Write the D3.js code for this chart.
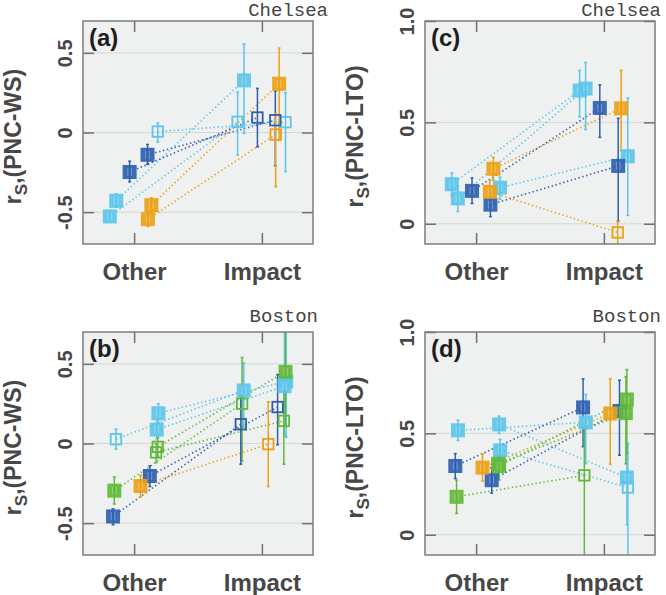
<!DOCTYPE html>
<html>
<head>
<meta charset="utf-8">
<script src="https://cdn.jsdelivr.net/npm/d3@7"></script>
<style>
  body { margin: 0; background: #fff; }
  svg { display: block; }
</style>
</head>
<body>
<div id="viz"></div>
<script>
const width = 666;
const height = 595;

// categories on the x axis
const categories = ['Other', 'Impact'];

// y tick values / labels
const wsTicks = [-0.5, 0, 0.5];
const wsTickLabels = ['-0.5', '0', '0.5'];
const ltoTicks = [0, 0.5, 1.0];
const ltoTickLabels = ['0', '0.5', '1.0'];

// each series: group, jitter (x offset in category units),
// values at [Other, Impact], lower / upper error, filled (significant) flags
const chelseaWS = [
  { group: 'lb', jitter: -0.19, value: [-0.527, 0.067], lo: [-0.56, -0.142], hi: [-0.49, 0.254], filled: [1, 0] },
  { group: 'lb', jitter: -0.14, value: [-0.429, 0.327], lo: [-0.47, -0.006], hi: [-0.385, 0.556], filled: [1, 1] },
  { group: 'lb', jitter: 0.185, value: [0.006, 0.065], lo: [-0.06, -0.246], hi: [0.06, 0.25], filled: [0, 0] },
  { group: 'db', jitter: -0.035, value: [-0.248, 0.094], lo: [-0.31, -0.09], hi: [-0.18, 0.277], filled: [1, 0] },
  { group: 'db', jitter: 0.105, value: [-0.14, 0.077], lo: [-0.2, -0.208], hi: [-0.075, 0.26], filled: [1, 0] },
  { group: 'or', jitter: 0.108, value: [-0.544, -0.013], lo: [-0.59, -0.34], hi: [-0.5, 0.12], filled: [1, 0] },
  { group: 'or', jitter: 0.135, value: [-0.456, 0.306], lo: [-0.5, -0.05], hi: [-0.41, 0.53], filled: [1, 1] },
];

const chelseaLTO = [
  { group: 'lb', jitter: -0.19, value: [0.195, 0.657], lo: [0.14, 0.528], hi: [0.25, 0.756], filled: [1, 1] },
  { group: 'lb', jitter: -0.143, value: [0.125, 0.667], lo: [0.06, 0.465], hi: [0.185, 0.795], filled: [1, 1] },
  { group: 'lb', jitter: 0.187, value: [0.178, 0.333], lo: [0.12, 0.041], hi: [0.23, 0.62], filled: [1, 1] },
  { group: 'db', jitter: -0.032, value: [0.162, 0.571], lo: [0.1, 0.426], hi: [0.226, 0.685], filled: [1, 1] },
  { group: 'db', jitter: 0.112, value: [0.094, 0.285], lo: [0.035, 0.012], hi: [0.15, 0.52], filled: [1, 1] },
  { group: 'or', jitter: 0.108, value: [0.157, -0.043], lo: [0.1, -0.15], hi: [0.215, 0.01], filled: [1, 0] },
  { group: 'or', jitter: 0.135, value: [0.271, 0.569], lo: [0.215, 0.36], hi: [0.327, 0.756], filled: [1, 1] },
];

const bostonWS = [
  { group: 'lb', jitter: -0.142, value: [0.027, 0.333], lo: [-0.035, 0.1], hi: [0.09, 0.506], filled: [0, 1] },
  { group: 'lb', jitter: 0.19, value: [0.19, 0.39], lo: [0.13, 0.04], hi: [0.25, 0.72], filled: [1, 1] },
  { group: 'lb', jitter: 0.177, value: [0.0875, 0.36], lo: [0.03, 0.05], hi: [0.15, 0.7], filled: [1, 1] },
  { group: 'gr', jitter: -0.155, value: [-0.296, 0.25], lo: [-0.38, -0.11], hi: [-0.21, 0.54], filled: [1, 0] },
  { group: 'gr', jitter: 0.185, value: [-0.021, 0.45], lo: [-0.08, 0.12], hi: [0.04, 0.78], filled: [0, 1] },
  { group: 'gr', jitter: 0.172, value: [-0.056, 0.142], lo: [-0.12, -0.13], hi: [0.0, 0.4], filled: [0, 0] },
  { group: 'db', jitter: -0.165, value: [-0.458, 0.121], lo: [-0.51, -0.13], hi: [-0.41, 0.3], filled: [1, 0] },
  { group: 'db', jitter: 0.123, value: [-0.204, 0.229], lo: [-0.27, -0.008], hi: [-0.14, 0.433], filled: [1, 0] },
  { group: 'or', jitter: 0.05, value: [-0.267, -0.004], lo: [-0.335, -0.271], hi: [-0.2, 0.262], filled: [1, 0] },
];

const bostonLTO = [
  { group: 'lb', jitter: -0.142, value: [0.515, 0.554], lo: [0.465, 0.35], hi: [0.565, 0.692], filled: [1, 1] },
  { group: 'lb', jitter: 0.18, value: [0.544, 0.282], lo: [0.5, 0.05], hi: [0.585, 0.45], filled: [1, 1] },
  { group: 'lb', jitter: 0.188, value: [0.416, 0.233], lo: [0.36, -0.15], hi: [0.47, 0.45], filled: [1, 0] },
  { group: 'db', jitter: -0.163, value: [0.339, 0.628], lo: [0.277, 0.434], hi: [0.4, 0.769], filled: [1, 1] },
  { group: 'db', jitter: 0.122, value: [0.269, 0.61], lo: [0.205, 0.392], hi: [0.33, 0.762], filled: [1, 1] },
  { group: 'or', jitter: 0.05, value: [0.331, 0.598], lo: [0.265, 0.348], hi: [0.397, 0.769], filled: [1, 1] },
  { group: 'gr', jitter: -0.153, value: [0.187, 0.293], lo: [0.105, -0.15], hi: [0.27, 0.55], filled: [1, 0] },
  { group: 'gr', jitter: 0.172, value: [0.35, 0.6], lo: [0.28, 0.35], hi: [0.42, 0.78], filled: [1, 1] },
  { group: 'gr', jitter: 0.18, value: [0.339, 0.667], lo: [0.27, 0.4], hi: [0.41, 0.815], filled: [1, 1] },
];

const colors = { lb: '#5cc6ea', db: '#2f60b0', or: '#eba116', gr: '#62b83a' };

const plotW = 230;
const plotH = 223;
const filledSize = 14;
const openSize = 10.5;

const svg = d3.select('#viz').append('svg')
  .attr('width', width).attr('height', height)
  .style('font-family', 'Liberation Sans, Arial, sans-serif');

let clipId = 0;

function drawPanel(opts) {
  const { left, top, data, yDomain, ticks, tickLabels, letter, site, siteX, siteY, yName } = opts;
  const g = svg.append('g').attr('transform', `translate(${left},${top})`);

  const x = d3.scaleLinear().domain([0.6, 2.4]).range([0, plotW]);
  const y = d3.scaleLinear().domain(yDomain).range([plotH, 0]);

  g.append('rect')
    .attr('width', plotW).attr('height', plotH)
    .attr('fill', '#eff0f0');

  // horizontal grid
  g.selectAll('.grid').data(ticks).enter().append('line')
    .attr('x1', 0).attr('x2', plotW)
    .attr('y1', (d) => y(d)).attr('y2', (d) => y(d))
    .attr('stroke', '#d6d8d8').attr('stroke-width', 1);

  const id = 'clip' + clipId++;
  g.append('clipPath').attr('id', id).append('rect')
    .attr('width', plotW).attr('height', plotH);
  const plot = g.append('g').attr('clip-path', `url(#${id})`);

  const cx = (s, i) => x(i + 1 + s.jitter);

  // dotted connectors
  plot.selectAll('.conn').data(data).enter().append('line')
    .attr('x1', (s) => cx(s, 0)).attr('y1', (s) => y(s.value[0]))
    .attr('x2', (s) => cx(s, 1)).attr('y2', (s) => y(s.value[1]))
    .attr('stroke', (s) => colors[s.group])
    .attr('stroke-width', 1.6)
    .attr('stroke-dasharray', '1.4 2.6');

  // flatten to points
  const pts = [];
  data.forEach((s) => {
    [0, 1].forEach((i) => {
      pts.push({
        group: s.group, x: cx(s, i), v: s.value[i], lo: s.lo[i], hi: s.hi[i], filled: s.filled[i],
      });
    });
  });

  // error bars
  const eb = plot.selectAll('.eb').data(pts).enter().append('g')
    .attr('stroke', (d) => colors[d.group]).attr('stroke-width', 1.5);
  eb.append('line')
    .attr('x1', (d) => d.x).attr('x2', (d) => d.x)
    .attr('y1', (d) => y(d.lo)).attr('y2', (d) => y(d.hi));
  eb.append('line')
    .attr('x1', (d) => d.x - 1.5).attr('x2', (d) => d.x + 1.5)
    .attr('y1', (d) => y(d.lo)).attr('y2', (d) => y(d.lo));
  eb.append('line')
    .attr('x1', (d) => d.x - 1.5).attr('x2', (d) => d.x + 1.5)
    .attr('y1', (d) => y(d.hi)).attr('y2', (d) => y(d.hi));

  // markers
  const mk = plot.selectAll('.mk').data(pts).enter().append('g')
    .attr('transform', (d) => `translate(${d.x},${y(d.v)})`);
  mk.filter((d) => d.filled).append('rect')
    .attr('x', -filledSize / 2).attr('y', -filledSize / 2)
    .attr('width', filledSize).attr('height', filledSize)
    .attr('fill', (d) => colors[d.group]).attr('fill-opacity', 0.92);
  mk.filter((d) => d.filled).append('path')
    .attr('d', 'M-1.8,-4V4M1.8,-4V4')
    .attr('stroke', '#fff').attr('stroke-opacity', 0.3).attr('stroke-width', 1);
  mk.filter((d) => !d.filled).append('rect')
    .attr('x', -openSize / 2).attr('y', -openSize / 2)
    .attr('width', openSize).attr('height', openSize)
    .attr('fill', 'none').attr('stroke', (d) => colors[d.group]).attr('stroke-width', 1.8);

  // axes (ticks point inward)
  const axStyle = (sel) => {
    sel.select('.domain').remove();
    sel.selectAll('line').attr('stroke', '#6f7070').attr('stroke-width', 1.5);
  };
  g.append('g').call(d3.axisTop(x).tickValues([1, 2]).tickSize(-11).tickFormat('')).call(axStyle);
  g.append('g').attr('transform', `translate(${plotW},0)`)
    .call(d3.axisRight(y).tickValues(ticks).tickSize(-11).tickFormat('')).call(axStyle);

  const yAx = g.append('g')
    .call(d3.axisLeft(y).tickValues(ticks).tickSize(-11).tickFormat((d, i) => tickLabels[i]))
    .call(axStyle);
  yAx.selectAll('text')
    .attr('x', null).attr('dy', null)
    .attr('transform', 'translate(-11,0) rotate(-90)')
    .attr('text-anchor', 'middle')
    .attr('fill', '#474747')
    .style('font-size', '20px').style('font-weight', 'bold')
    .style('font-family', 'Liberation Sans, Arial, sans-serif');

  const xAx = g.append('g').attr('transform', `translate(0,${plotH})`)
    .call(d3.axisBottom(x).tickValues([1, 2]).tickSize(-11).tickFormat((d, i) => categories[i]))
    .call(axStyle);
  xAx.selectAll('text')
    .attr('y', 36).attr('dy', null)
    .attr('fill', '#474747')
    .style('font-size', '24px').style('font-weight', 'bold')
    .style('font-family', 'Liberation Sans, Arial, sans-serif');

  // frame
  g.append('rect')
    .attr('width', plotW).attr('height', plotH)
    .attr('fill', 'none').attr('stroke', '#7d7e7e').attr('stroke-width', 1.5);

  // panel letter
  g.append('text')
    .attr('x', 6).attr('y', 25)
    .attr('fill', '#1e1e1e')
    .style('font-size', '24px').style('font-weight', 'bold')
    .text(`(${letter})`);

  // y title with subscript
  const t = g.append('text')
    .attr('transform', `translate(-62,${plotH / 2 + 4}) rotate(-90)`)
    .attr('text-anchor', 'middle')
    .attr('fill', '#474747')
    .style('font-size', '23px').style('font-weight', 'bold');
  t.append('tspan').text('r');
  t.append('tspan').attr('dy', 6).style('font-size', '17px').text('S');
  t.append('tspan').attr('dy', -6).text(`,(${yName})`);

  // site label
  svg.append('text')
    .attr('x', siteX).attr('y', siteY)
    .attr('text-anchor', 'end')
    .attr('fill', '#444')
    .style('font-family', 'Liberation Mono, Courier New, monospace')
    .style('font-size', '19px')
    .text(site);
}

drawPanel({ left: 83, top: 21, data: chelseaWS, yDomain: [-0.7, 0.7], ticks: wsTicks, tickLabels: wsTickLabels,
  letter: 'a', site: 'Chelsea', siteX: 328, siteY: 16, yName: 'PNC-WS' });
drawPanel({ left: 425, top: 21, data: chelseaLTO, yDomain: [-0.1, 1.0], ticks: ltoTicks, tickLabels: ltoTickLabels,
  letter: 'c', site: 'Chelsea', siteX: 661, siteY: 16, yName: 'PNC-LTO' });
drawPanel({ left: 83, top: 332, data: bostonWS, yDomain: [-0.7, 0.7], ticks: wsTicks, tickLabels: wsTickLabels,
  letter: 'b', site: 'Boston', siteX: 318, siteY: 322, yName: 'PNC-WS' });
drawPanel({ left: 425, top: 332, data: bostonLTO, yDomain: [-0.1, 1.0], ticks: ltoTicks, tickLabels: ltoTickLabels,
  letter: 'd', site: 'Boston', siteX: 661, siteY: 322, yName: 'PNC-LTO' });
</script>
</body>
</html>
